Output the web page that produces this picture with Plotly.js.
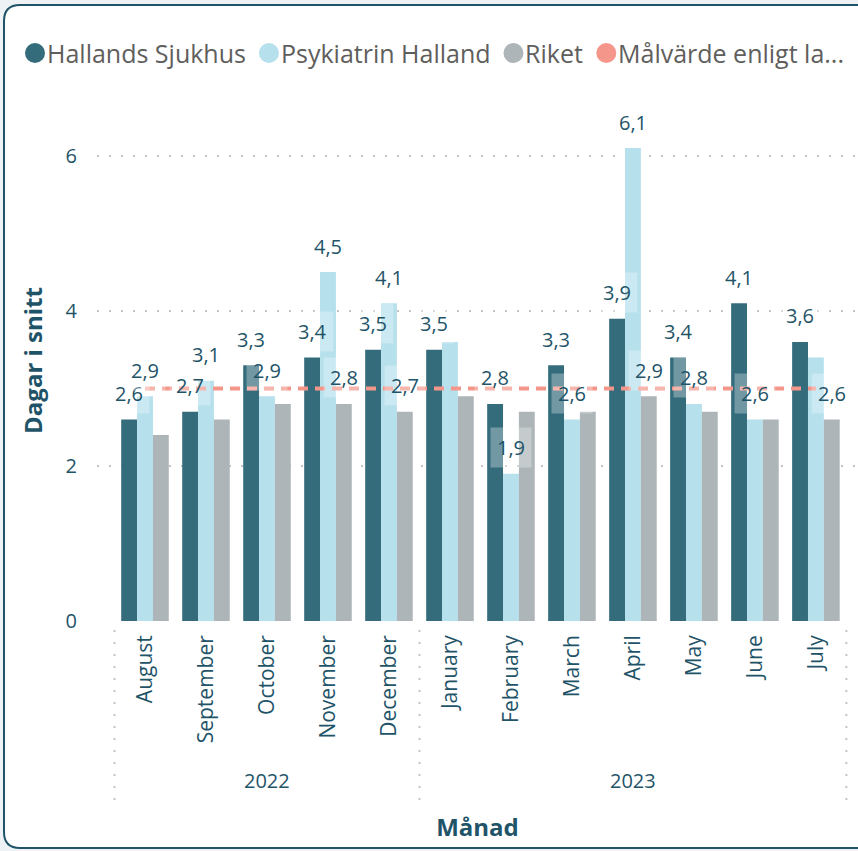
<!DOCTYPE html>
<html>
<head>
<meta charset="utf-8">
<script src="https://cdn.plot.ly/plotly-3.0.1.min.js"></script>
<style>html,body{margin:0;padding:0;background:#fff;}#chart{width:858px;height:851px;}</style>
</head>
<body>
<div id="chart"></div>
<script>
// ---- data ----
const months = ['August','September','October','November','December','January','February','March','April','May','June','July'];
const monthYear = ['2022','2022','2022','2022','2022','2023','2023','2023','2023','2023','2023','2023'];
const years = ['2022','2023'];
const seriesNames = ['Hallands Sjukhus','Psykiatrin Halland','Riket','Målvärde enligt la...'];
const hallands   = [2.6,2.7,3.3,3.4,3.5,3.5,2.8,3.3,3.9,3.4,4.1,3.6];
const psykiatrin = [2.9,3.1,2.9,4.5,4.1,3.6,1.9,2.6,6.1,2.8,2.6,3.4];
const riket      = [2.4,2.6,2.8,2.8,2.7,2.9,2.7,2.7,2.9,2.7,2.6,2.6];
const malvarde   = [3,3,3,3,3,3,3,3,3,3,3,3];
// which data labels are visible in the original
const hallandsLabels   = [1,1,1,1,1,1,1,1,1,1,1,1];
const psykiatrinLabels = [1,1,1,1,1,0,1,1,1,1,1,0];
const riketLabels      = [0,0,0,1,1,0,0,0,1,0,0,1];

// ---- style ----
const colors = ['#346C7C','#B5E0EC','#ADB5B8','#F4978A'];
const textColor = '#1f5468';
const font = 'Open Sans, Noto Sans, sans-serif';
const bargap = 0.22;
const M = {l:97, r:0, t:100, b:230}, W = 858, H = 851;
const plotW = W - M.l - M.r, plotH = H - M.t - M.b;
const px2x = p => (p - M.l) / plotW;
const px2y = p => (H - M.b - p) / plotH;

const barSeries = [hallands, psykiatrin, riket];
const labelFlags = [hallandsLabels, psykiatrinLabels, riketLabels];

const traces = [];
barSeries.forEach((vals, k) => {
  traces.push({type:'bar', x: months, y: vals, name: seriesNames[k],
    marker:{color: colors[k]}, hoverinfo:'skip'});
});
traces.push({type:'scatter', mode:'lines', x: months, y: malvarde, name: seriesNames[3],
  line:{color: colors[3], width:4, dash:'10px,7px'}, hoverinfo:'skip'});

// data labels
const fmt = v => v.toFixed(1).replace('.', ',');
const barW = (1 - bargap) / barSeries.length;
const annotations = [];
barSeries.forEach((vals, k) => {
  const off = (k - (barSeries.length - 1) / 2) * barW;
  vals.forEach((v, i) => {
    if (!labelFlags[k][i]) return;
    annotations.push({xref:'x', yref:'y', x: i + off, y: v, yshift: 26, yanchor:'middle',
      text: fmt(v), showarrow:false, font:{family:font, size:20, color:textColor},
      bgcolor:'rgba(255,255,255,0.3)', borderpad:6});
  });
});

// year group labels + dividers
const shapes = [];
const divider = x => ({type:'line', xref:'x', yref:'paper', x0:x, x1:x, y0:px2y(630), y1:px2y(800),
  line:{color:'#c4c4c4', width:2, dash:'2px,10px'}});
years.forEach((yr, j) => {
  const idx = months.map((m, i) => i).filter(i => monthYear[i] === yr);
  const first = idx[0], last = idx[idx.length - 1];
  annotations.push({xref:'x', yref:'paper', x:(first + last) / 2, y:px2y(780), text: yr,
    showarrow:false, font:{family:font, size:20, color:textColor}, yanchor:'middle'});
  if (j === 0) shapes.push(divider(first - 0.5));
  shapes.push(divider(last + 0.5));
});

// card frame
const x0 = px2x(4), x1 = px2x(900), yT = px2y(5), yB = px2y(848), rx = 16/plotW, ry = 16/plotH;
shapes.unshift({type:'path', xref:'paper', yref:'paper', layer:'below',
  path:`M ${x1},${yT} L ${x0+rx},${yT} Q ${x0},${yT} ${x0},${yT-ry} L ${x0},${yB+ry} Q ${x0},${yB} ${x0+rx},${yB} L ${x1},${yB} Z`,
  fillcolor:'#ffffff', line:{color:'#1f5468', width:2}});

// legend (circle markers, tight spacing as in the original)
const legendFontSize = 25;
const ctx = document.createElement('canvas').getContext('2d');
ctx.font = legendFontSize + 'px "Open Sans"';
let lx = 25; const ly = 53;
seriesNames.forEach((n, k) => {
  shapes.push({type:'circle', xref:'paper', yref:'paper', xsizemode:'pixel', ysizemode:'pixel',
    xanchor: px2x(lx + 10), yanchor: px2y(ly), x0:-10, x1:10, y0:-10, y1:10,
    fillcolor: colors[k], line:{width:0}});
  annotations.push({xref:'paper', yref:'paper', x: px2x(lx + 21), y: px2y(ly), xanchor:'left', yanchor:'middle',
    text: n, showarrow:false, font:{family:font, size:legendFontSize, color:'#605e5c'}, borderpad:0});
  lx += 21 + ctx.measureText(n).width + 14;
});

const layout = {
  width:W, height:H,
  margin:M,
  paper_bgcolor:'#eef2f4', plot_bgcolor:'rgba(0,0,0,0)',
  font:{family:font, color:textColor},
  separators:',.',
  barmode:'group', bargap:bargap, bargroupgap:0,
  showlegend:false,
  xaxis:{type:'category', range:[-0.787, 11.69], tickangle:-90, showgrid:false, zeroline:false,
    showline:false, ticks:'', ticklabelstandoff:9, automargin:false,
    tickfont:{family:font, size:21, color:textColor},
    title:{text:'<b>Månad</b>', font:{family:font, size:24, color:textColor}, standoff:76}},
  yaxis:{range:[0, 6.72], tick0:0, dtick:2, showgrid:true, gridcolor:'#c4c4c4', gridwidth:2,
    griddash:'2px,10px', zeroline:false, showline:false, ticks:'', ticklabelstandoff:19, automargin:false,
    tickfont:{family:font, size:20, color:textColor},
    title:{text:'<b>Dagar i snitt</b>', font:{family:font, size:24, color:textColor}, standoff:16}},
  shapes: shapes,
  annotations: annotations
};

Plotly.newPlot('chart', traces, layout, {displayModeBar:false, staticPlot:true});
</script>
</body>
</html>
